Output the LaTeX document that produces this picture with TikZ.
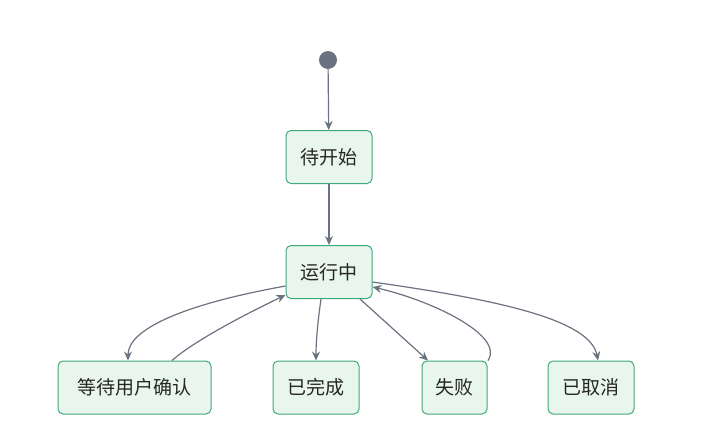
\documentclass[tikz,border=0pt]{standalone}
\usepackage{fontspec}
\setmainfont{Noto Sans CJK SC}
\usetikzlibrary{arrows.meta}
\definecolor{edge}{HTML}{6B7280}
\definecolor{bfill}{HTML}{E8F6EE}
\definecolor{bdraw}{HTML}{3FA97A}
\begin{document}
\begin{tikzpicture}[x=1pt,y=-1pt,
  st/.style={draw=bdraw,fill=bfill,rounded corners=5pt,line width=1pt,minimum height=53pt,inner xsep=10pt,font=\fontsize{19}{22}\selectfont,text=black!85},
  ar/.style={draw=edge,line width=1.2pt,-{Stealth[length=9pt,width=8pt]}}]
\useasboundingbox (0,0) rectangle (707,437);
\node[circle,fill=edge,minimum size=18pt,inner sep=0] (s) at (328,60) {};
\node[st,minimum width=86pt] (a) at (329,157) {待开始};
\node[st,minimum width=86pt] (r) at (329,272) {运行中};
\node[st,minimum width=153pt] (w) at (134.5,387.5) {等待用户确认};
\node[st,minimum width=86pt] (d) at (316,387.5) {已完成};
\node[st,minimum width=65pt] (f) at (454.5,387.5) {失败};
\node[st,minimum width=86pt] (c) at (591,387.5) {已取消};
\draw[ar] (s) -- (a);
\draw[ar] (a) -- (r);
\draw[ar] (r.west|-0,286) .. controls (180,305) and (128,330) .. (w.north-|128,0);
\draw[ar] (w.north-|172,0) .. controls (195,340) and (250,312) .. (r.west|-0,295);
\draw[ar] (r.south-|321,0) .. controls (318,320) and (316,340) .. (d.north);
\draw[ar] (r.south-|360,0) -- (f.north-|428,0);
\draw[ar] (f.north-|488,0) .. controls (505,335) and (430,300) .. (r.east|-0,287);
\draw[ar] (r.east|-0,282) .. controls (500,300) and (590,320) .. (c.north-|598,0);
\end{tikzpicture}
\end{document}
